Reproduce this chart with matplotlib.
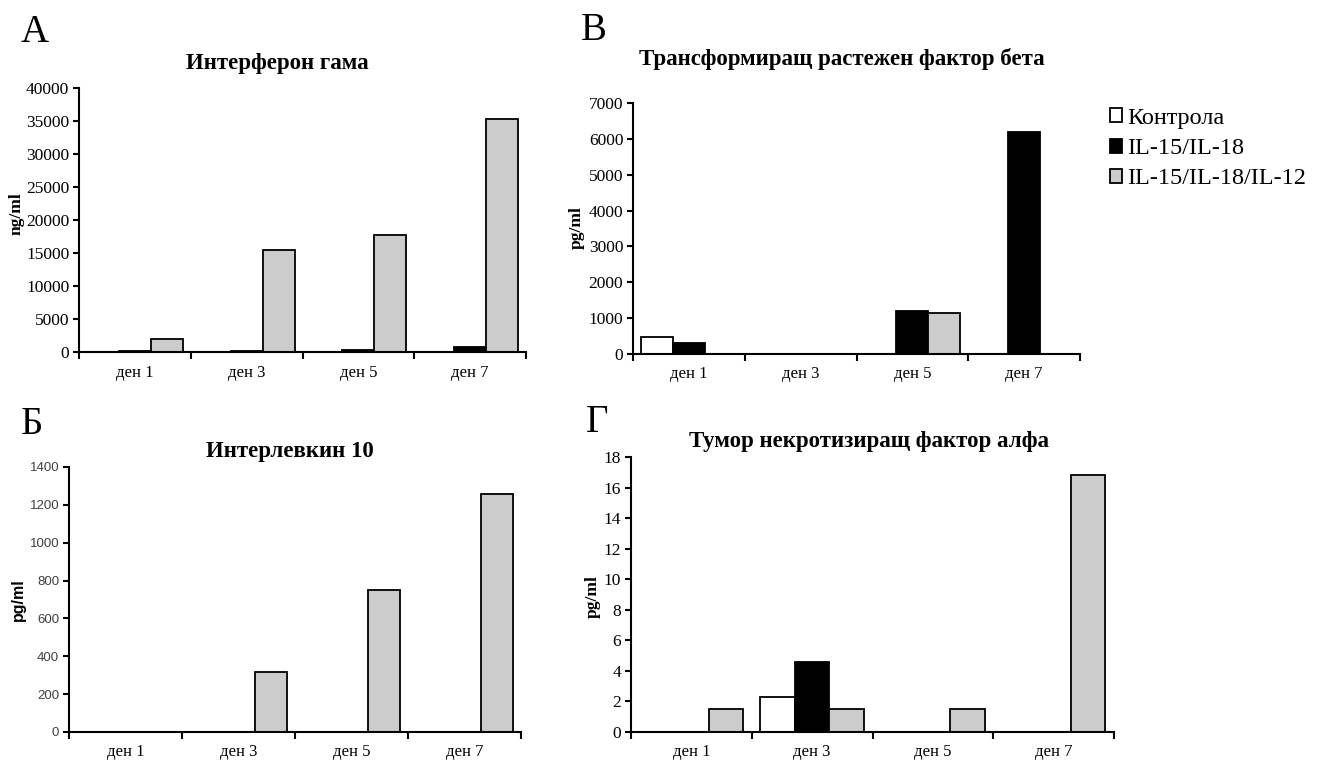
import matplotlib
matplotlib.use("Agg")
import matplotlib.pyplot as plt
from matplotlib.patches import Patch
from matplotlib.ticker import MultipleLocator
import numpy as np

W, H = 1317, 764
DPI = 100

days = ["ден 1", "ден 3", "ден 5", "ден 7"]
series_names = ["Контрола", "IL-15/IL-18", "IL-15/IL-18/IL-12"]
series_colors = ["white", "black", "#cccccc"]

# Интерферон гама (ng/ml)
ifn_control = [0, 0, 0, 0]
ifn_il15_18 = [150, 100, 300, 800]
ifn_il15_18_12 = [1950, 15500, 17800, 35300]

# Трансформиращ растежен фактор бета (pg/ml)
tgf_control = [470, 0, 0, 0]
tgf_il15_18 = [310, 0, 1190, 6180]
tgf_il15_18_12 = [0, 0, 1130, 0]

# Интерлевкин 10 (pg/ml)
il10_control = [0, 0, 0, 0]
il10_il15_18 = [0, 0, 0, 0]
il10_il15_18_12 = [0, 317, 748, 1255]

# Тумор некротизиращ фактор алфа (pg/ml)
tnf_control = [0, 2.3, 0, 0]
tnf_il15_18 = [0, 4.6, 0, 0]
tnf_il15_18_12 = [1.5, 1.5, 1.5, 16.8]

SERIF = ["Liberation Serif", "DejaVu Serif"]
SANS = ["Liberation Sans", "DejaVu Sans"]

fig = plt.figure(figsize=(W / DPI, H / DPI), dpi=DPI)
fig.patch.set_facecolor("white")


def px_rect(left, top, right, bottom):
    return [left / W, 1 - bottom / H, (right - left) / W, (bottom - top) / H]


def fx(x):
    return x / W


def fy(y):
    return 1 - y / H


def panel(rect, series, ymax, ystep, title, title_xy, letter, letter_xy,
          sans_ticks=False):
    ax = fig.add_axes(px_rect(*rect))
    n = len(series)
    width = 1 / 3.5
    x = np.arange(len(days)) + 0.5
    for i, (vals, color) in enumerate(zip(series, series_colors)):
        ax.bar(x + (i - (n - 1) / 2) * width, vals, width=width, color=color,
               edgecolor="black", linewidth=1.3, label=series_names[i], zorder=2)
    ax.set_xlim(0, len(days))
    ax.set_ylim(0, ymax)
    for side in ("top", "right"):
        ax.spines[side].set_visible(False)
    for side in ("left", "bottom"):
        ax.spines[side].set_linewidth(1.5)
        ax.spines[side].set_zorder(3)
    ax.yaxis.set_major_locator(MultipleLocator(ystep))
    ax.set_xticks(np.arange(len(days) + 1))
    ax.set_xticklabels([])
    ax.set_xticks(x, minor=True)
    ax.set_xticklabels(days, minor=True, fontfamily=SERIF, fontsize=12)
    ax.tick_params(axis="x", which="major", direction="out", length=5, width=1.5)
    ax.tick_params(axis="x", which="minor", length=0, pad=9)
    ax.tick_params(axis="y", direction="out", length=4, width=1.5, pad=3)
    if sans_ticks:
        for lab in ax.get_yticklabels():
            lab.set_fontfamily(SANS)
            lab.set_fontsize(9.5)
            lab.set_color("#404040")
    else:
        for lab in ax.get_yticklabels():
            lab.set_fontfamily(SERIF)
            lab.set_fontsize(12.5)
    fig.text(fx(title_xy[0]), fy(title_xy[1]), title, ha="center", va="center",
             fontfamily=SERIF, fontweight="bold", fontsize=16.5)
    fig.text(fx(letter_xy[0]), fy(letter_xy[1]), letter, ha="center", va="center",
             fontfamily=SERIF, fontsize=28)
    return ax


def side_label(x, y, text, family, size):
    fig.text(fx(x), fy(y), text, rotation=90, ha="center", va="center",
             fontfamily=family, fontweight="bold", fontsize=size)


panel((79, 88, 526, 352),
      [ifn_control, ifn_il15_18, ifn_il15_18_12], 40000, 5000,
      "Интерферон гама", (277, 63), "А", (35, 32))
side_label(17, 214, "ng/ml", SERIF, 12.5)

panel((633, 103, 1080, 354),
      [tgf_control, tgf_il15_18, tgf_il15_18_12], 7000, 1000,
      "Трансформиращ растежен фактор бета", (842, 59), "В", (594, 30))
side_label(577, 228, "pg/ml", SERIF, 12.5)

panel((69, 467, 521, 732),
      [il10_control, il10_il15_18, il10_il15_18_12], 1400, 200,
      "Интерлевкин 10", (290, 452), "Б", (32, 425), sans_ticks=True)
side_label(18, 600, "pg/ml", SANS, 11.5)

panel((631, 457, 1114, 732),
      [tnf_control, tnf_il15_18, tnf_il15_18_12], 18, 2,
      "Тумор некротизиращ фактор алфа", (869, 441), "Г", (597, 422))
side_label(593, 597, "pg/ml", SERIF, 12.5)

handles = [Patch(facecolor=c, edgecolor="black", linewidth=1.3) for c in series_colors]
fig.legend(handles, series_names, loc="upper left",
           bbox_to_anchor=(fx(1110), fy(108)), frameon=False,
           prop={"family": SERIF, "size": 17.5},
           handlelength=0.5, handleheight=0.5, handletextpad=0.2,
           labelspacing=0.38, borderaxespad=0, borderpad=0)

fig.savefig("out.png", dpi=DPI, facecolor="white")
